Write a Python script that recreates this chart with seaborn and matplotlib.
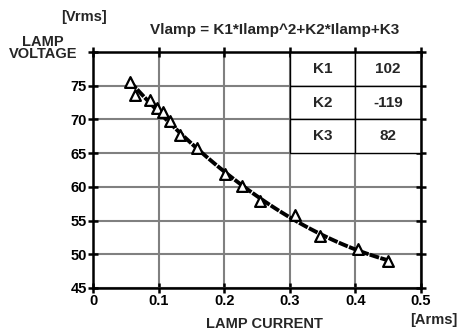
import numpy as np
import pandas as pd
import matplotlib
matplotlib.use("Agg")
import matplotlib.pyplot as plt
import seaborn as sns

# Measured points (LAMP CURRENT [Arms], LAMP VOLTAGE [Vrms])
current = [0.056, 0.064, 0.087, 0.097, 0.106, 0.117, 0.133, 0.158, 0.201, 0.227,
           0.255, 0.308, 0.346, 0.404, 0.449]
voltage = [75.6, 73.6, 72.9, 71.7, 71.1, 69.8, 67.7, 65.7, 61.9, 60.1,
           57.9, 55.8, 52.7, 50.8, 49.0]

# Fit coefficients shown in the table
coef_names = ["K1", "K2", "K3"]
coef_values = [102, -119, 82]

x_ticks = [0, 0.1, 0.2, 0.3, 0.4, 0.5]
x_ticklabels = ["0", "0.1", "0.2", "0.3", "0.4", "0.5"]
y_ticks = [45, 50, 55, 60, 65, 70, 75, 80]
y_ticklabels = ["45", "50", "55", "60", "65", "70", "75", ""]

sns.set_theme(style="white")
plt.rcParams['font.family'] = ['Liberation Sans', 'DejaVu Sans']
plt.rcParams['font.weight'] = 'bold'

fig = plt.figure(figsize=(4.59, 3.33), dpi=100)
ax = fig.add_axes([93/459, 1-288/333, (421-93)/459, (288-52)/333])

# fitted curve from the stated coefficients
k1, k2, k3 = coef_values
xs = np.linspace(min(current), max(current), 120)
fit = pd.DataFrame({"I": xs, "V": k1*xs**2 + k2*xs + k3})
pts = pd.DataFrame({"I": current, "V": voltage})

ax.set_xlim(0, 0.5)
ax.set_ylim(45, 80)
ax.set_xticks(x_ticks)
ax.set_xticklabels(x_ticklabels)
ax.set_yticks(y_ticks)
ax.set_yticklabels(y_ticklabels)
ax.grid(True, color="#808080", linewidth=1.5)
ax.set_axisbelow(True)

sns.lineplot(data=fit, x="I", y="V", ax=ax, color="black", linewidth=2.8,
             linestyle=(0, (2.5, 0.35)), zorder=3)
sns.scatterplot(data=pts, x="I", y="V", ax=ax, marker="^", s=60,
                facecolor="white", edgecolor="black", linewidth=1.6, zorder=4)

# coefficient table
xs_cell = [0.3, 0.4]
y_top = 80
for i, (nm, val) in enumerate(zip(coef_names, coef_values)):
    yt = y_top - 5*i
    for j, txt in enumerate([nm, str(val)]):
        x0 = xs_cell[j]
        ax.add_patch(plt.Rectangle((x0, yt-5), 0.1, 5, facecolor="white",
                                   edgecolor="black", linewidth=1.0, zorder=2))
        ax.text(x0+0.05, yt-2.5, txt, ha="center", va="center",
                fontsize=11, fontweight="bold", zorder=5)

for s in ax.spines.values():
    s.set_color("black")
    s.set_linewidth(1.8)
    s.set_visible(True)
ax.tick_params(axis="both", which="both", direction="inout", length=7, width=1.8,
               colors="black", labelsize=10.5, top=True, right=True, bottom=True, left=True,
               labeltop=False, labelright=False, pad=1)
for lab in ax.get_xticklabels() + ax.get_yticklabels():
    lab.set_fontweight("bold")
ax.set_xlabel("")
ax.set_ylabel("")

fig.text(84/459, 1-17/333, "[Vrms]", ha="center", va="center", fontsize=10.5, fontweight="bold")
fig.text(43/459, 1-48/333, "LAMP\nVOLTAGE", ha="center", va="center", fontsize=10.5,
         fontweight="bold", linespacing=0.9)
fig.text(275/459, 1-30/333, "Vlamp = K1*Ilamp^2+K2*Ilamp+K3", ha="center", va="center",
         fontsize=11, fontweight="bold")
fig.text(264/459, 1-324/333, "LAMP CURRENT", ha="center", va="center", fontsize=10.5, fontweight="bold")
fig.text(434/459, 1-320/333, "[Arms]", ha="center", va="center", fontsize=10.5, fontweight="bold")

fig.savefig("out.png", dpi=100)
